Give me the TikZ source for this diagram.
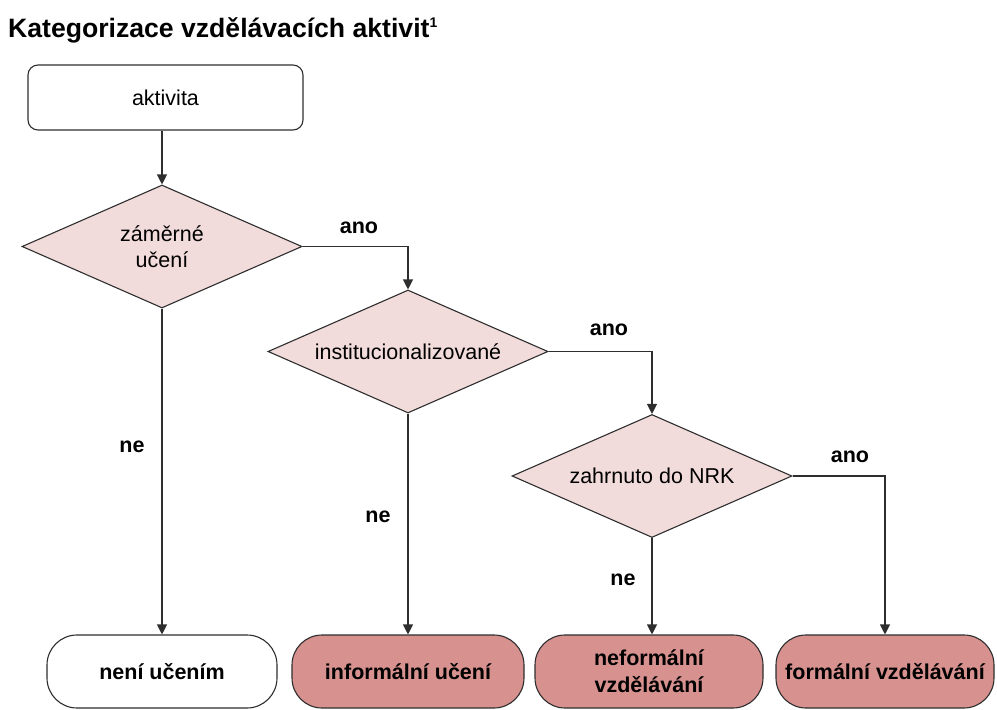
\documentclass[tikz,border=0pt]{standalone}
\usepackage{fontspec}
\setmainfont{Liberation Sans}
\usetikzlibrary{shapes.geometric,arrows.meta}
\definecolor{dfill}{HTML}{F2DCDB}
\definecolor{efill}{HTML}{D7918F}
\definecolor{edgec}{HTML}{2E2E2E}
\begin{document}
\begin{tikzpicture}[x=1pt,y=-1pt,
  font=\fontsize{21.5}{26}\selectfont,
  decision/.style={diamond, shape aspect=2.28, draw=edgec, fill=dfill, line width=1.1pt,
    minimum width=280pt, minimum height=123pt, inner sep=0pt, align=center},
  startbox/.style={rectangle, rounded corners=10pt, draw=edgec, line width=1.1pt,
    minimum width=275pt, minimum height=65pt},
  endbox/.style={rectangle, rounded corners=30pt, draw=edgec, line width=1.1pt,
    minimum height=73pt, font=\bfseries\fontsize{21.5}{27}\selectfont, align=center, inner sep=0pt},
  conn/.style={line width=1.1pt, draw=edgec, -{Triangle[length=10pt,width=10pt]}},
  lbl/.style={font=\bfseries\fontsize{21.5}{26}\selectfont}
]
\useasboundingbox (0,0) rectangle (997,710);

\node[anchor=base west, inner sep=0pt] (title) at (8,37)
  {\bfseries\fontsize{26.6}{30}\selectfont Kategorizace vzdělávacích aktivit\raisebox{10pt}{\fontsize{14}{14}\selectfont 1}};

\node[startbox] (act) at (165.5,97.5) {aktivita};
\node[decision] (d1) at (162,246.5) {záměrné\\učení};
\node[decision] (d2) at (408,351.5) {institucionalizované};
\node[decision] (d3) at (652,476) {zahrnuto do NRK};

\node[endbox, fill=white, minimum width=230pt] (e1) at (162,671.5) {není učením};
\node[endbox, fill=efill, minimum width=232pt] (e2) at (408,671.5) {informální učení};
\node[endbox, fill=efill, minimum width=228pt] (e3) at (649,671.5) {neformální\\vzdělávání};
\node[endbox, fill=efill, minimum width=218pt] (e4) at (885,671.5) {formální vzdělávání};

\draw[conn] (act.south -| d1.north) -- (d1.north);
\draw[conn] (d1.east) -| (d2.north);
\draw[conn] (d2.east) -| (d3.north);
\draw[conn] (d3.east) -| (e4.north);
\draw[conn] (d1.south) -- (e1.north);
\draw[conn] (d2.south) -- (e2.north);
\draw[conn] (d3.south) -- (d3.south |- e3.north);

\node[lbl] (ano1) at (359,228) {ano};
\node[lbl] (ano2) at (609,330) {ano};
\node[lbl] (ano3) at (850,457) {ano};
\node[lbl] (ne1) at (132,447) {ne};
\node[lbl] (ne2) at (378,517) {ne};
\node[lbl] (ne3) at (623,580) {ne};
\end{tikzpicture}
\end{document}
